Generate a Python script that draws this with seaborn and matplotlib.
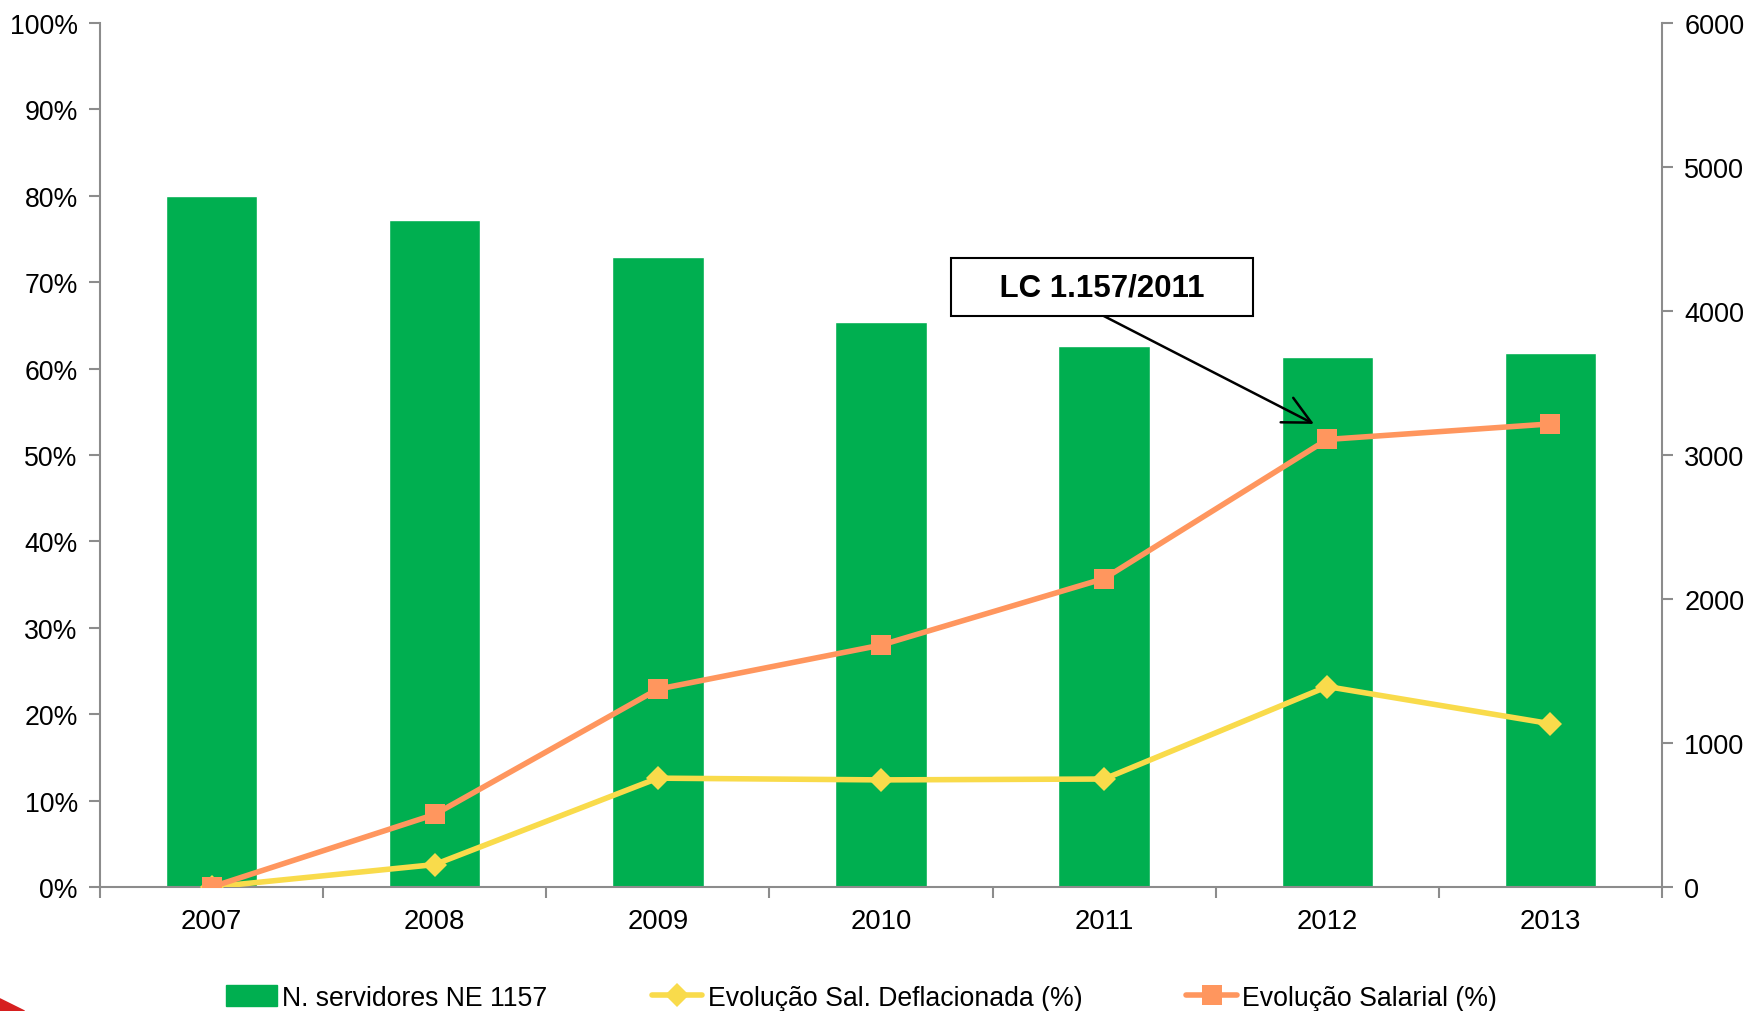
import numpy as np
import matplotlib
matplotlib.use("Agg")
import matplotlib.pyplot as plt
import matplotlib.patches as mpatches
from matplotlib.lines import Line2D
from matplotlib.ticker import PercentFormatter
import seaborn as sns

# ==========================================
#  DATA
# ==========================================
years = ["2007", "2008", "2009", "2010", "2011", "2012", "2013"]
servidores = [4800, 4630, 4375, 3925, 3755, 3680, 3710]
sal_deflacionada = [0.0, 2.6, 12.6, 12.4, 12.5, 23.2, 18.9]
sal_evolucao = [0.0, 8.4, 22.9, 28.0, 35.7, 51.8, 53.6]

label_bar = "N. servidores NE 1157"
label_defl = "Evolução Sal. Deflacionada (%)"
label_sal = "Evolução Salarial (%)"

GREEN = "#00AF50"
YELLOW = "#F9DB4B"
ORANGE = "#FF965E"
GRAY = "#8C8C8C"

sns.set_style("white")
plt.rcParams["font.family"] = ["Liberation Sans", "DejaVu Sans"]
plt.rcParams["text.color"] = "black"
plt.rcParams["xtick.labelcolor"] = "black"
plt.rcParams["ytick.labelcolor"] = "black"

fig = plt.figure(figsize=(17.48, 10.12), dpi=100)
ax_bar = fig.add_axes([0.0572, 0.1225, 0.8936, 0.8538])
ax_line = ax_bar.twinx()

# bars (right scale)
sns.barplot(x=years, y=servidores, color=GREEN, width=0.41, saturation=1,
            ax=ax_bar, zorder=2)
ax_bar.set_ylim(0, 6000)
ax_bar.set_yticks(np.arange(0, 6001, 1000))
ax_bar.yaxis.tick_right()
ax_bar.yaxis.set_label_position("right")

# lines (left scale)
pos = np.arange(len(years))
sns.lineplot(x=pos, y=sal_deflacionada, color=YELLOW, lw=4.0, marker="D",
             markersize=12, markeredgewidth=0, ax=ax_line, zorder=3)
sns.lineplot(x=pos, y=sal_evolucao, color=ORANGE, lw=4.0, marker="s",
             markersize=15, markeredgewidth=0, ax=ax_line, zorder=4)
ax_line.set_ylim(0, 100)
ax_line.set_yticks(np.arange(0, 101, 10))
ax_line.yaxis.set_major_formatter(PercentFormatter(decimals=0))
ax_line.yaxis.tick_left()
ax_line.yaxis.set_label_position("left")

for a in (ax_bar, ax_line):
    a.set_xlim(-0.5, len(years) - 0.5)
    a.set_ylabel("")
    a.set_xlabel("")
    for s in a.spines.values():
        s.set_visible(False)

ax_bar.spines["bottom"].set_visible(True)
ax_bar.spines["right"].set_visible(True)
ax_line.spines["left"].set_visible(True)
for s in ("bottom", "right"):
    ax_bar.spines[s].set_color(GRAY)
    ax_bar.spines[s].set_linewidth(1.5)
ax_line.spines["left"].set_color(GRAY)
ax_line.spines["left"].set_linewidth(1.5)

# x ticks: marks between categories, labels at centres
ax_bar.set_xticks(np.arange(-0.5, len(years), 1.0))
ax_bar.set_xticklabels([])
ax_bar.set_xticks(pos, minor=True)
ax_bar.set_xticklabels(years, minor=True)
ax_bar.tick_params(axis="x", which="major", direction="out", length=8,
                   width=1.5, color=GRAY, bottom=True)
ax_bar.tick_params(axis="x", which="minor", length=0, pad=15, labelsize=19.8)
ax_bar.tick_params(axis="y", direction="out", length=8, width=1.5,
                   color=GRAY, pad=8, labelsize=19.5, right=True, left=False)
ax_line.tick_params(axis="y", direction="out", length=8, width=1.5,
                    color=GRAY, pad=8, labelsize=19.2, left=True, right=False)
ax_line.tick_params(axis="x", which="both", bottom=False, labelbottom=False)

# annotation: arrow from the bottom of the box, then the boxed text
ax_line.annotate("", xy=(4.94, 53.6), xytext=(3.99, 66.2),
                 arrowprops=dict(arrowstyle="->,head_length=0.9,head_width=0.45",
                                 color="black", lw=1.8, shrinkA=0, shrinkB=0,
                                 mutation_scale=22),
                 zorder=5)
ax_line.text(3.99, 69.4, "    LC 1.157/2011    ",
             ha="center", va="center", fontsize=22.5, fontweight="bold",
             bbox=dict(boxstyle="square,pad=0.45", fc="white", ec="black", lw=1.5),
             zorder=6)

# legend
handles = [
    mpatches.Patch(color=GREEN, label=label_bar),
    Line2D([], [], color=YELLOW, lw=4.0, marker="D", markersize=12,
           markeredgewidth=0, label=label_defl),
    Line2D([], [], color=ORANGE, lw=4.0, marker="s", markersize=15,
           markeredgewidth=0, label=label_sal),
]
fig.legend(handles=handles, loc="center", bbox_to_anchor=(0.493, 0.013),
           ncol=3, frameon=False, fontsize=19.2, handlelength=1.9,
           handletextpad=0.2, columnspacing=3.9, handleheight=0.8)

# slide decoration at bottom-left corner
fig.patches.append(mpatches.Polygon([[0, 0], [0, 0.012], [0.014, 0]],
                                    closed=True, transform=fig.transFigure,
                                    color="#D61F1F", figure=fig))

fig.savefig("out.png", dpi=100)
